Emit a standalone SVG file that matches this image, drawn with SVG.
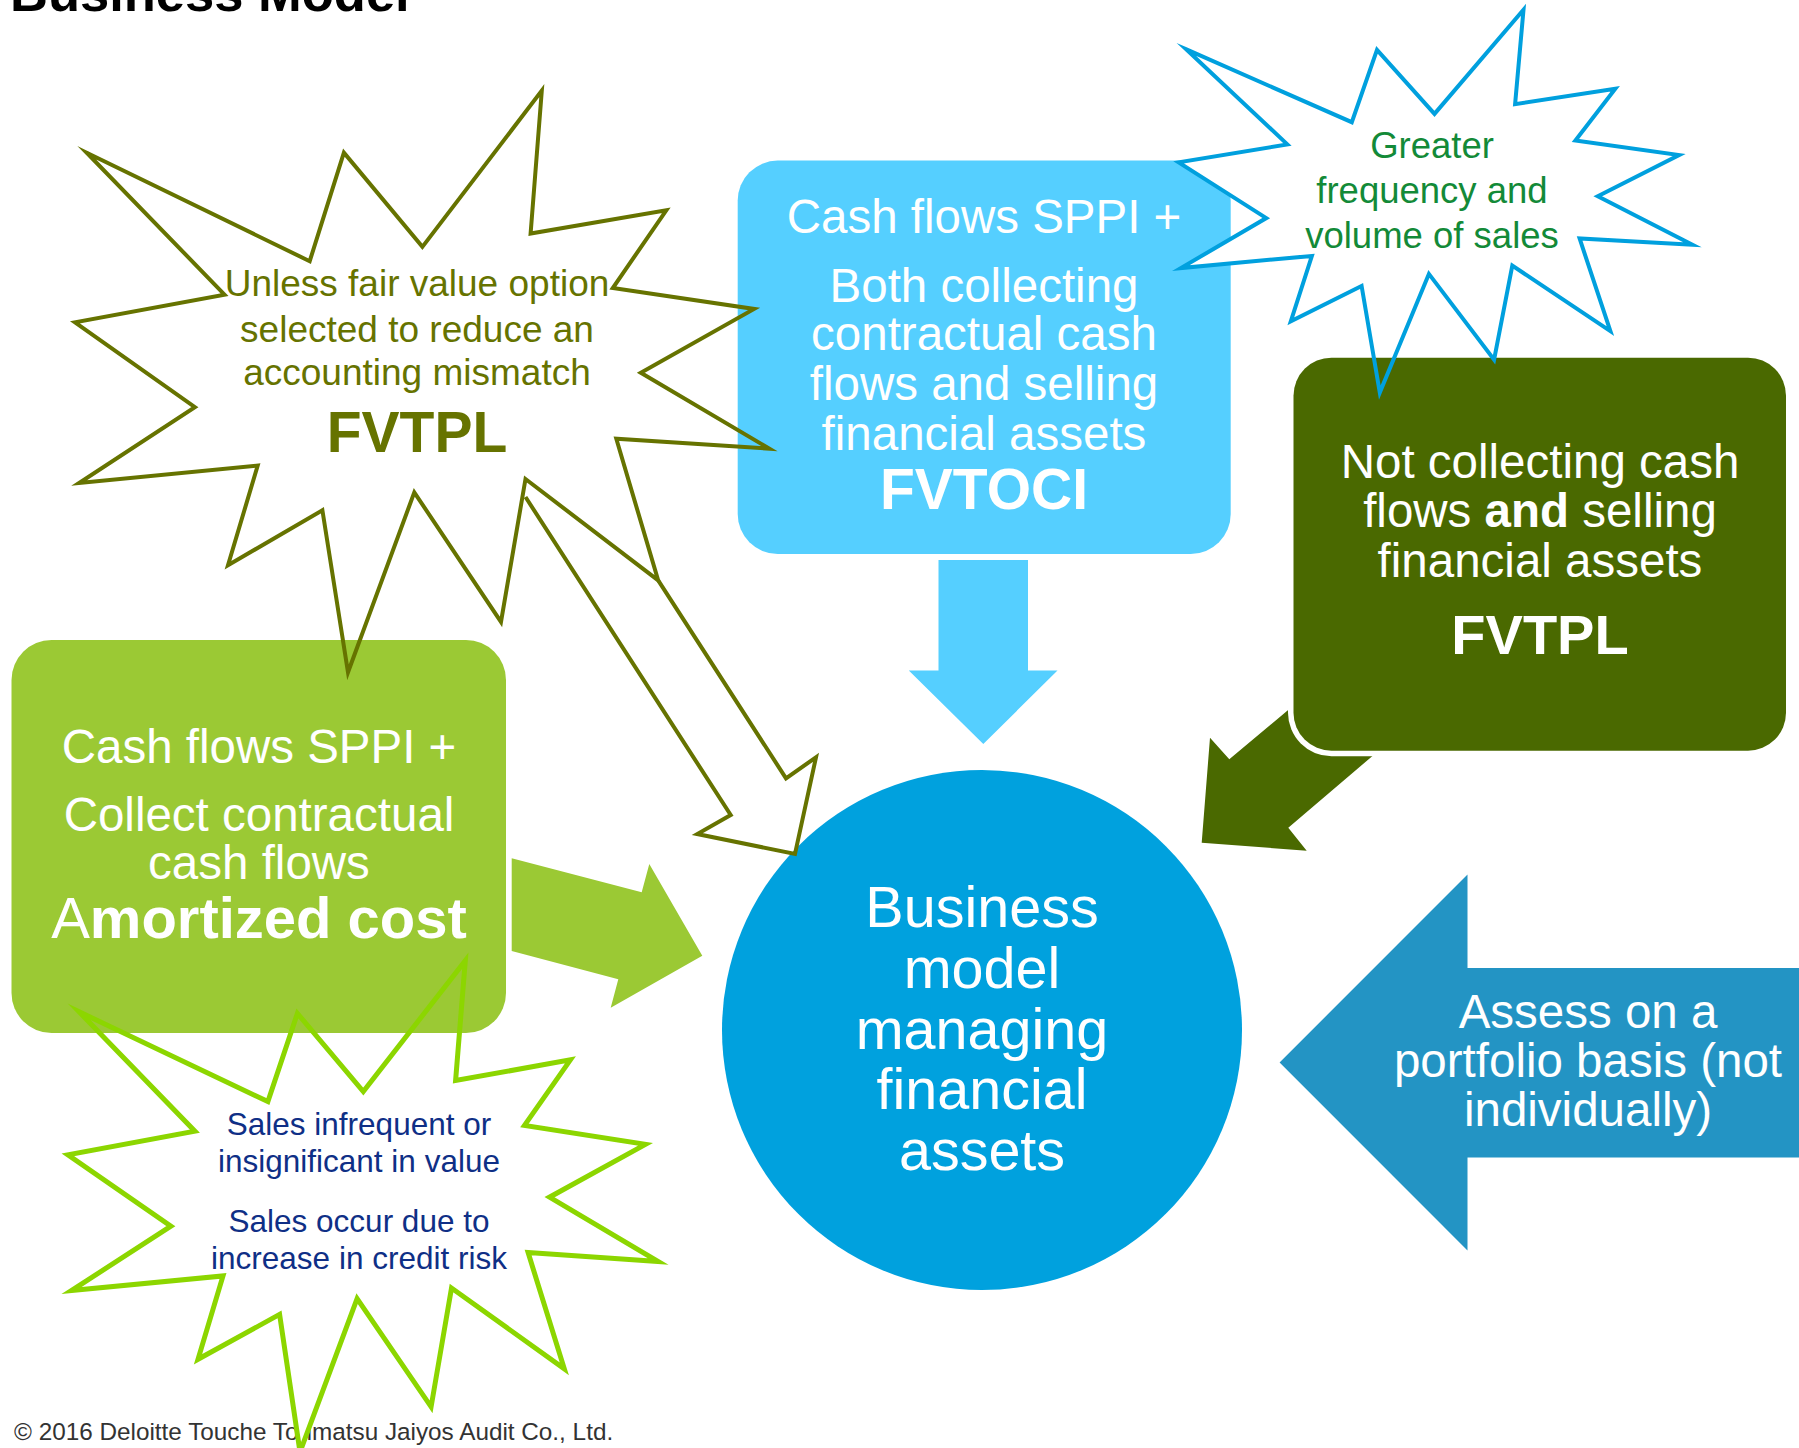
<svg xmlns="http://www.w3.org/2000/svg" xmlns:xlink="http://www.w3.org/1999/xlink" width="1799" height="1448" viewBox="0 0 1799 1448">
  <style>
    text { font-family: "Liberation Sans", Arial, sans-serif; text-anchor: middle; }
    .w { fill: #ffffff; }
    .b { font-weight: bold; }
    .t47 { font-size: 47.5px; }
    .backdrop { fill: #ffffff; stroke: none; }
    .olive-line { fill: none; stroke: #667300; stroke-width: 4; stroke-linejoin: miter; stroke-miterlimit: 20; }
    .blue-line { fill: none; stroke: #00A0DE; stroke-width: 4; stroke-linejoin: miter; stroke-miterlimit: 20; }
    .lime-line { fill: none; stroke: #8CD600; stroke-width: 5; stroke-linejoin: miter; stroke-miterlimit: 20; }
  </style>
  <defs>
    <polygon id="star-fvtpl-shape" points="86.7,152.7 309.7,261.2 343.9,152.7 422.4,246.9 541.8,90.6 530.6,233.5 666.3,210.3 612.8,288 754.1,308.9 640.8,372.8 769.4,448.7 616.3,438.8 658.2,580.4 525.5,479 501,621.9 414.3,492.4 348,672.3 322.4,510.3 228,565.2 257.7,465.6 79.1,483 194.9,407.1 75,322.3 224.5,294.6"/>
    <polygon id="star-sales-shape" points="1186.4,49.4 1351.8,122.2 1377,49.9 1434.5,113.9 1523.5,9.7 1515.1,104.2 1615.3,88.7 1575.4,140.6 1679.1,155.1 1597.8,196.3 1692.4,244.8 1579.6,238.5 1610.4,331.1 1512.3,265.6 1494.1,359.7 1428.9,273.9 1379.8,392.6 1361.6,286 1290.8,321.4 1311.9,255.9 1180.8,268.1 1266.3,218.1 1178.7,162.4 1287.3,144.4"/>
    <polygon id="star-amort-shape" points="79.1,1011.8 267.9,1101.6 297.4,1013.4 363.3,1091.6 465.3,960.6 455.6,1080.5 570.4,1059.9 524.5,1125.4 645.4,1144.4 549.5,1197.2 658.2,1261.6 528.1,1252.6 564.3,1368.8 451.5,1288 431.1,1406.8 357.1,1298.6 300,1452 279.6,1314.4 198,1359.3 223,1275.9 71.4,1290.6 170.9,1226.2 67.9,1154.9 194.9,1131.2"/>
  </defs>

  <rect x="0" y="0" width="1799" height="1448" fill="#ffffff"/>

  <g id="title">
    <text x="10" y="11" style="text-anchor:start;font-size:52.5px;font-weight:bold;fill:#000000">Business Model</text>
  </g>

  <g id="copyright">
    <text x="14" y="1440" style="text-anchor:start;font-size:24.3px;fill:#333333">© 2016 Deloitte Touche Tohmatsu Jaiyos Audit Co., Ltd.</text>
  </g>

  <!-- white backdrops of the starbursts -->
  <g id="star-backdrops">
    <use xlink:href="#star-fvtpl-shape" class="backdrop"/>
    <use xlink:href="#star-amort-shape" class="backdrop"/>
  </g>

  <g id="node-amortized-cost">
    <rect x="11.5" y="640" width="494.5" height="393" rx="40" ry="40" fill="#9BC934"/>
    <text class="w t47" x="259" y="763">Cash flows SPPI +</text>
    <text class="w t47" x="259" y="831">Collect contractual</text>
    <text class="w t47" x="259" y="879">cash flows</text>
    <text class="w" x="259" y="938" style="font-size:58px">A<tspan class="b">mortized cost</tspan></text>
  </g>

  <g id="node-fvtoci">
    <rect x="737.7" y="160.6" width="493" height="393.4" rx="40" ry="40" fill="#55CFFF"/>
    <text class="w t47" x="984" y="233">Cash flows SPPI +</text>
    <text class="w t47" x="984" y="302">Both collecting</text>
    <text class="w t47" x="984" y="350">contractual cash</text>
    <text class="w t47" x="984" y="400">flows and selling</text>
    <text class="w t47" x="984" y="450">financial assets</text>
    <text class="w b" x="984" y="509" style="font-size:57px">FVTOCI</text>
  </g>

  <g id="star-sales-backdrop">
    <use xlink:href="#star-sales-shape" class="backdrop"/>
  </g>

  <g id="connectors">
    <polygon id="arrow-fvtpl-box" points="1345.3,662 1229.3,759.3 1210,737.7 1201.7,842.7 1306.7,850.7 1288.3,827.7 1455,685.7" fill="#4A6900"/>
    <polygon id="arrow-fvtoci" points="938.5,560 1028,560 1028,670.5 1057.5,670.5 983.3,744 908.8,670.5 938.5,670.5" fill="#55CFFF"/>
    <polygon id="arrow-amortized" points="511.7,858.3 641.7,892.3 649.3,864 702.3,955.7 610.7,1007.7 618.3,979.3 511.7,951" fill="#9BC934"/>
  </g>

  <g id="node-fvtpl-box">
    <rect x="1288" y="352.2" width="503.5" height="404" rx="43.5" ry="43.5" fill="#ffffff"/>
    <rect x="1293.5" y="357.7" width="492.5" height="393" rx="38" ry="38" fill="#4A6900"/>
    <text class="w t47" x="1540" y="477.5">Not collecting cash</text>
    <text class="w t47" x="1540" y="527.4">flows <tspan class="b">and</tspan> selling</text>
    <text class="w t47" x="1540" y="576.8">financial assets</text>
    <text class="w b" x="1540" y="654.4" style="font-size:56px">FVTPL</text>
  </g>

  <g id="node-star-fvtpl">
    <use xlink:href="#star-fvtpl-shape" class="olive-line"/>
    <g style="fill:#667300">
      <text x="417" y="296" style="font-size:37px">Unless fair value option</text>
      <text x="417" y="341.5" style="font-size:37px">selected to reduce an</text>
      <text x="417" y="385" style="font-size:37px">accounting mismatch</text>
      <text class="b" x="417" y="452" style="font-size:57px">FVTPL</text>
    </g>
  </g>

  <g id="node-star-sales">
    <use xlink:href="#star-sales-shape" class="blue-line"/>
    <g style="fill:#138A38;font-size:36.5px">
      <text x="1432" y="158">Greater</text>
      <text x="1432" y="203">frequency and</text>
      <text x="1432" y="248">volume of sales</text>
    </g>
  </g>

  <g id="node-star-amortized">
    <use xlink:href="#star-amort-shape" class="lime-line"/>
    <g style="fill:#0F2F86;font-size:31.5px">
      <text x="359" y="1135">Sales infrequent or</text>
      <text x="359" y="1172">insignificant in value</text>
      <text x="359" y="1231.5">Sales occur due to</text>
      <text x="359" y="1268.5">increase in credit risk</text>
    </g>
  </g>

  <g id="node-business-model">
    <circle cx="982" cy="1030" r="260" fill="#00A1DE"/>
    <g class="w" style="font-size:57.5px">
      <text x="982" y="926.6">Business</text>
      <text x="982" y="987.6">model</text>
      <text x="982" y="1049">managing</text>
      <text x="982" y="1108.8">financial</text>
      <text x="982" y="1170">assets</text>
    </g>
  </g>

  <g id="connectors-overlay">
    <polyline id="arrow-fvtpl-star" class="olive-line" points="525.5,497 730.7,815 697.3,834 795,854 816,757.3 786,778.3 658.2,580.4"/>
  </g>

  <g id="node-assess">
    <polygon points="1279.6,1062.5 1467.5,874.5 1467.5,968 1799,968 1799,1157.5 1467.5,1157.5 1467.5,1250.5" fill="#2394C4"/>
    <text class="w t47" x="1588" y="1028">Assess on a</text>
    <text class="w t47" x="1588" y="1077">portfolio basis (not</text>
    <text class="w t47" x="1588" y="1126">individually)</text>
  </g>
</svg>
